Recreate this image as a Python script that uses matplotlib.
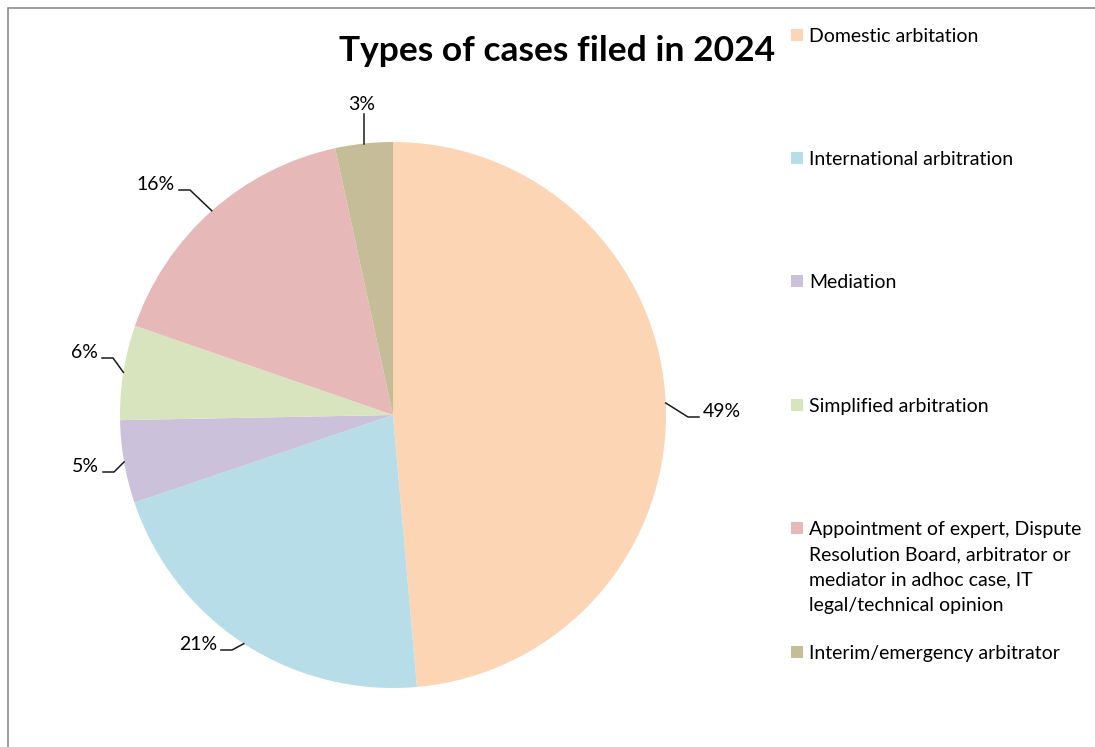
import numpy as np
import matplotlib
matplotlib.use("Agg")
import matplotlib.pyplot as plt
from matplotlib.patches import Rectangle

# data (shares)
categories = [
    "Domestic arbitation",
    "International arbitration",
    "Mediation",
    "Simplified arbitration",
    "Appointment of expert, Dispute\nResolution Board, arbitrator or\nmediator in adhoc case, IT\nlegal/technical opinion",
    "Interim/emergency arbitrator",
]
shares = [48.6, 21.2, 4.9, 5.6, 16.3, 3.4]
colors = ["#FCD5B5", "#B7DEE8", "#CCC1DA", "#D7E4BD", "#E6B9B8", "#C4BD97"]
title = "Types of cases filed in 2024"

plt.rcParams["font.family"] = ["Lato", "DejaVu Sans"]

W, H = 1095, 747
fig = plt.figure(figsize=(W / 100, H / 100), dpi=100)


def fx(x):
    return x / W


def fy(y):
    return 1 - y / H


# gray chart-area frame (only top and left edges visible)
fig.patches.append(Rectangle((fx(8), -0.1), 1.2, fy(8) + 0.1, transform=fig.transFigure,
                             fill=False, edgecolor="#8c8c8c", linewidth=1.2))

# pie axes, in pixel units around the centre
cx, cy, half = 393, 415, 340
ax = fig.add_axes([fx(cx - half), fy(cy + half), 2 * half / W, 2 * half / H])
R = 273
wedges, _ = ax.pie(shares, colors=colors, radius=R, startangle=90, counterclock=False,
                   wedgeprops=dict(linewidth=0))
ax.set_xlim(-half, half)
ax.set_ylim(-half, half)
ax.axis("off")

# where the data labels sit (pixels from pie centre: inner text edge, text centre)
label_pos = [(310, 3), (-176, -230), (-294, -52), (-295, 62), (-218, 230), (-31, 302)]

for w, s, (tx, ty) in zip(wedges, shares, label_pos):
    th = np.deg2rad((w.theta1 + w.theta2) / 2)
    px, py = R * np.cos(th), R * np.sin(th)
    txt = f"{s:.0f}%"
    if abs(np.cos(th)) < 0.15:
        ax.plot([px, px], [py, ty - 1], color="#1a1a1a", lw=1.1)
        ax.text(tx, ty, txt, ha="center", va="bottom", fontsize=14)
    else:
        side = 1 if tx > 0 else -1
        ax.plot([px, tx - side * 15, tx - side * 4], [py, ty - 5, ty - 5], color="#1a1a1a", lw=1.1)
        ax.text(tx, ty, txt, ha="left" if side > 0 else "right", va="center", fontsize=14)

# title
fig.text(fx(557), fy(51), title, ha="center", va="center", fontsize=25.5, fontweight="bold")

# legend on the right
legend_y = [35, 158, 281, 405, 528, 652]
for lab, col, y in zip(categories, colors, legend_y):
    fig.patches.append(Rectangle((fx(791), fy(y + 6)), 12 / W, 12 / H, transform=fig.transFigure,
                                 facecolor=col, edgecolor="none"))
    fig.text(fx(809), fy(y - 7), lab, ha="left", va="top", fontsize=14, linespacing=1.6)

fig.savefig("out.png", dpi=100, facecolor="white")
